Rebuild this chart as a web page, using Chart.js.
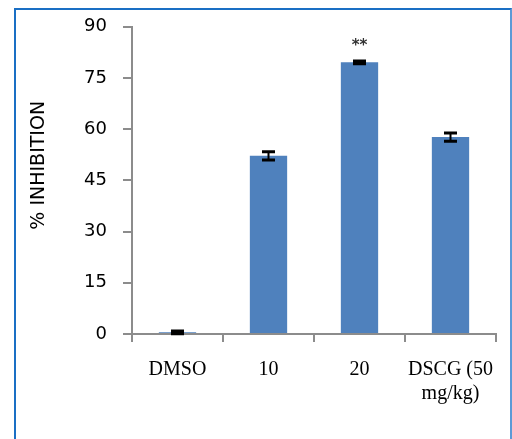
<!DOCTYPE html>
<html>
<head>
<meta charset="utf-8">
<script src="https://cdn.jsdelivr.net/npm/chart.js@4/dist/chart.umd.min.js"></script>
<style>
  html, body { margin: 0; padding: 0; background: #fff; }
  #wrap { position: relative; width: 512px; height: 439px; overflow: hidden; }
  #frame { position: absolute; left: 14px; top: 8px; width: 494px; height: 460px;
           border-left: 2px solid #1a6fc4; border-top: 2px solid #1a6fc4; border-right: 2px solid #5d9ad6;
           pointer-events: none; }
  canvas { position: absolute; left: 0; top: 0; }
</style>
</head>
<body>
<div id="wrap">
  <canvas id="c" width="512" height="439"></canvas>
  <div id="frame"></div>
</div>
<script>
const categories = ['DMSO', '10', '20', ['DSCG (50', 'mg/kg)']];
const inhibition = [0.5, 52.2, 79.6, 57.7];
const errors = [0.4, 1.2, 0.4, 1.2];
const significance = ['', '', '**', ''];
const yTicks = [0, 15, 30, 45, 60, 75, 90];

const errorBarPlugin = {
  id: 'errorBars',
  afterDatasetsDraw(chart) {
    const ctx = chart.ctx;
    const meta = chart.getDatasetMeta(0);
    const y = chart.scales.y;
    ctx.save();
    ctx.strokeStyle = '#000';
    meta.data.forEach((bar, i) => {
      const v = inhibition[i], e = errors[i];
      const yt = y.getPixelForValue(v + e);
      const yb = y.getPixelForValue(v - e);
      ctx.lineWidth = 2;
      ctx.beginPath();
      ctx.moveTo(bar.x, yt); ctx.lineTo(bar.x, yb); ctx.stroke();
      ctx.lineWidth = 3;
      ctx.beginPath();
      ctx.moveTo(bar.x - 6.5, yt); ctx.lineTo(bar.x + 6.5, yt);
      ctx.moveTo(bar.x - 6.5, yb); ctx.lineTo(bar.x + 6.5, yb);
      ctx.stroke();
      if (significance[i]) {
        ctx.fillStyle = '#333';
        ctx.font = 'bold 15px "DejaVu Sans"';
        ctx.textAlign = 'center';
        ctx.textBaseline = 'middle';
        ctx.fillText(significance[i], bar.x, yt - 15);
      }
    });
    ctx.restore();
  }
};

new Chart(document.getElementById('c'), {
  type: 'bar',
  data: {
    labels: categories,
    datasets: [{
      data: inhibition,
      backgroundColor: '#4f81bd',
      borderWidth: 0,
      barPercentage: 0.41,
      categoryPercentage: 1.0
    }]
  },
  options: {
    responsive: false,
    animation: false,
    layout: { padding: { top: 23, right: 16, left: 0, bottom: 0 } },
    plugins: { legend: { display: false }, tooltip: { enabled: false } },
    scales: {
      x: {
        offset: true,
        grid: { display: true, drawOnChartArea: false, offset: true, tickLength: 8, color: '#8c8c8c', lineWidth: 2 },
        border: { display: true, color: '#8c8c8c', width: 2 },
        ticks: { color: '#000', padding: 16, font: { family: '"Liberation Serif"', size: 20 }, maxRotation: 0, autoSkip: false },
        afterFit(scale) { scale.height = 105; }
      },
      y: {
        min: 0, max: 90,
        afterBuildTicks(scale) { scale.ticks = yTicks.map(v => ({ value: v })); },
        grid: { display: true, drawOnChartArea: false, tickLength: 9, color: '#8c8c8c', lineWidth: 2 },
        border: { display: true, color: '#8c8c8c', width: 2 },
        ticks: { color: '#000', padding: 16, font: { family: '"DejaVu Sans"', size: 18 } },
        title: { display: true, text: '     % INHIBITION', color: '#000', font: { family: '"DejaVu Sans"', size: 19 }, padding: { top: 28, bottom: 0 } },
        afterFit(scale) { scale.width = 132; }
      }
    }
  },
  plugins: [errorBarPlugin]
});
</script>
</body>
</html>
